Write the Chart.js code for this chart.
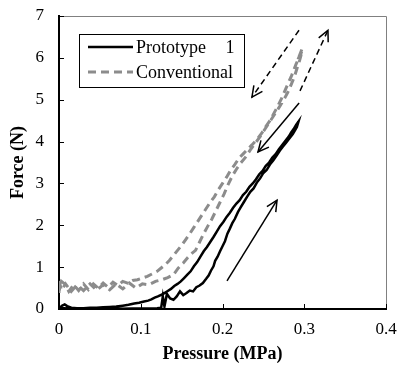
<!DOCTYPE html>
<html><head><meta charset="utf-8">
<script src="https://cdn.jsdelivr.net/npm/chart.js@4/dist/chart.umd.min.js"></script>
<style>html,body{margin:0;padding:0;background:#fff}#wrap{width:398px;height:365px}</style>
</head><body><div id="wrap"><canvas id="c" width="398" height="365"></canvas></div>
<script>
// ---- data ----
const seriesNames = ['Prototype 1', 'Conventional'];
const xTickValues = [0, 0.1, 0.2, 0.3, 0.4];
const yTickValues = [0, 1, 2, 3, 4, 5, 6, 7];
const xTitle = 'Pressure (MPa)';
const yTitle = 'Force (N)';

// Prototype 1: loading then unloading
const protoPressure = [
  0.000,0.010,0.030,0.060,0.090,0.110,0.120,0.125,0.127,0.129,0.132,0.136,0.140,0.144,0.148,0.152,0.156,0.160,0.164,0.168,
  0.172,0.176,0.180,0.183,0.186,0.189,0.191,0.194,0.197,0.200,0.203,0.206,0.209,0.212,0.215,0.219,0.222,0.226,0.230,0.234,
  0.238,0.242,0.246,0.250,0.254,0.258,0.262,0.266,0.270,0.274,0.278,0.282,0.286,0.289,0.291,0.293,
  0.290,0.287,0.284,0.281,0.277,0.273,0.269,0.265,0.261,0.257,0.253,0.249,0.245,0.241,0.237,0.233,0.229,0.225,0.221,
  0.217,0.213,0.209,0.205,0.201,0.197,0.193,0.189,0.185,0.181,0.177,0.173,0.169,0.165,0.161,0.157,0.153,0.149,0.145,0.141,
  0.137,0.133,0.129,0.125,0.121,0.117,0.113,0.109,0.104,0.098,0.092,0.085,0.078,0.070,0.062,0.054,0.046,0.038,0.030,0.022,
  0.015,0.010,0.007,0.004,0.001
];
const protoForce = [
  0.03,0.01,0.00,0.00,0.01,0.01,0.02,0.03,0.30,0.06,0.36,0.25,0.22,0.30,0.42,0.33,0.38,0.44,0.42,0.52,
  0.56,0.62,0.72,0.80,0.92,1.02,1.15,1.25,1.38,1.50,1.62,1.80,1.92,2.05,2.15,2.32,2.42,2.55,2.68,2.80,
  2.88,3.02,3.12,3.25,3.32,3.45,3.55,3.66,3.78,3.88,3.98,4.08,4.18,4.28,4.35,4.48,
  4.40,4.30,4.22,4.12,4.02,3.92,3.82,3.70,3.62,3.50,3.42,3.30,3.22,3.10,3.00,2.92,2.80,2.72,2.60,
  2.52,2.42,2.30,2.20,2.08,1.98,1.85,1.72,1.60,1.48,1.38,1.25,1.12,1.02,0.90,0.82,0.74,0.66,0.60,0.55,
  0.48,0.43,0.38,0.34,0.30,0.27,0.23,0.20,0.18,0.15,0.13,0.10,0.08,0.06,0.05,0.04,0.03,0.03,0.02,0.02,
  0.03,0.07,0.11,0.08,0.03
];

// Conventional: loading then unloading
const convPressure = [
  0.000,0.000,0.003,0.008,0.015,0.022,0.030,0.038,0.046,0.054,0.062,0.070,0.078,0.086,0.094,0.102,0.110,0.118,0.126,0.133,
  0.140,0.146,0.152,0.157,0.162,0.167,0.172,0.177,0.182,0.187,0.192,0.197,0.202,0.207,0.212,0.217,0.222,0.228,0.234,0.240,
  0.246,0.252,0.258,0.264,0.270,0.275,0.280,0.284,0.288,0.291,0.294,0.296,0.297,0.293,0.297,0.292,
  0.295,0.293,0.290,0.287,0.284,0.280,0.276,0.272,0.268,0.263,0.258,0.253,0.248,0.242,0.236,0.230,0.225,0.220,0.215,0.210,
  0.205,0.200,0.195,0.190,0.185,0.180,0.175,0.170,0.165,0.160,0.155,0.150,0.145,0.140,0.135,0.130,0.125,0.120,0.114,0.108,
  0.102,0.096,0.090,0.084,0.078,0.072,0.066,0.060,0.054,0.048,0.042,0.036,0.030,0.024,0.018,0.012,0.007,0.003,0.000
];
const convForce = [
  0.38,0.68,0.45,0.60,0.42,0.58,0.44,0.60,0.45,0.58,0.46,0.60,0.48,0.62,0.50,0.60,0.58,0.66,0.70,0.75,
  0.82,0.98,1.10,1.22,1.32,1.40,1.60,1.80,1.98,2.15,2.35,2.55,2.75,2.98,3.18,3.34,3.48,3.62,3.80,3.96,
  4.12,4.30,4.48,4.66,4.84,5.00,5.18,5.36,5.55,5.74,5.92,6.06,6.20,6.00,6.15,5.95,
  6.08,5.98,5.85,5.70,5.55,5.38,5.20,5.02,4.86,4.68,4.50,4.36,4.20,4.05,3.92,3.80,3.70,3.60,3.45,3.32,
  3.15,3.00,2.85,2.68,2.55,2.40,2.25,2.10,1.95,1.80,1.66,1.52,1.40,1.28,1.16,1.06,0.98,0.90,0.84,0.78,
  0.74,0.70,0.68,0.62,0.66,0.56,0.64,0.52,0.62,0.50,0.60,0.46,0.60,0.44,0.58,0.42,0.60,0.66,0.42
];

// Annotation arrows (data coordinates): [pressure, force]
const arrowFromP = [0.2936, 0.2948, 0.2937, 0.2055];
const arrowFromF = [6.66, 5.21, 4.92, 0.67];
const arrowToP   = [0.2360, 0.3290, 0.2434, 0.2667];
const arrowToF   = [5.06, 6.66, 3.75, 2.60];
const arrowDashed = [true, true, false, false];

// ---- styles ----
const protoColor = '#000000';
const convColor = '#8c8c8c';
const serif = "'Liberation Serif', 'Times New Roman', serif";

function toPoints(xs, ys) { return xs.map((x, i) => ({ x: x, y: ys[i] })); }

const decor = {
  id: 'decor',
  afterDraw(chart) {
    const ctx = chart.ctx, a = chart.chartArea;
    const xs = chart.scales.x, ys = chart.scales.y;
    ctx.save();
    ctx.strokeStyle = '#808080'; ctx.lineWidth = 1;
    ctx.beginPath();
    ctx.moveTo(a.left, a.top + 0.5); ctx.lineTo(a.right + 0.5, a.top + 0.5); ctx.lineTo(a.right + 0.5, a.bottom);
    ctx.stroke();
    ctx.strokeStyle = '#000'; ctx.lineWidth = 1;
    ctx.beginPath();
    yTickValues.forEach(v => { const py = Math.round(ys.getPixelForValue(v)) + 0.5; ctx.moveTo(a.left, py); ctx.lineTo(a.left + 5, py); });
    xTickValues.forEach(v => { const px = Math.round(xs.getPixelForValue(v)) + 0.5; ctx.moveTo(px, a.bottom); ctx.lineTo(px, a.bottom - 5); });
    ctx.stroke();
    for (let i = 0; i < arrowFromP.length; i++) {
      const x1 = xs.getPixelForValue(arrowFromP[i]), y1 = ys.getPixelForValue(arrowFromF[i]);
      const x2 = xs.getPixelForValue(arrowToP[i]), y2 = ys.getPixelForValue(arrowToF[i]);
      ctx.strokeStyle = '#000'; ctx.lineWidth = 1.5;
      ctx.setLineDash(arrowDashed[i] ? [6, 4] : []);
      ctx.beginPath(); ctx.moveTo(x1, y1); ctx.lineTo(x2, y2); ctx.stroke();
      const ang = Math.atan2(y2 - y1, x2 - x1), L = 12, w = 0.45;
      ctx.setLineDash([]);
      ctx.beginPath();
      ctx.moveTo(x2 - L * Math.cos(ang - w), y2 - L * Math.sin(ang - w));
      ctx.lineTo(x2, y2);
      ctx.lineTo(x2 - L * Math.cos(ang + w), y2 - L * Math.sin(ang + w));
      ctx.stroke();
    }
    ctx.setLineDash([]);
    ctx.strokeStyle = '#000'; ctx.lineWidth = 1;
    ctx.fillStyle = '#fff';
    ctx.fillRect(79, 34, 165, 53);
    ctx.strokeRect(79.5, 34.5, 165, 53);
    const rows = [47, 72];
    chart.data.datasets.forEach((ds, i) => {
      ctx.strokeStyle = ds.borderColor; ctx.lineWidth = ds.borderWidth;
      ctx.setLineDash(ds.borderDash || []);
      ctx.beginPath(); ctx.moveTo(88, rows[i]); ctx.lineTo(133, rows[i]); ctx.stroke();
      ctx.setLineDash([]);
      ctx.fillStyle = '#000';
      ctx.font = "18px " + serif;
      ctx.wordSpacing = '15px';
      ctx.textBaseline = 'middle'; ctx.textAlign = 'left';
      ctx.fillText(ds.label, 136, rows[i] + 1);
      ctx.wordSpacing = '0px';
    });
    ctx.restore();
  }
};

new Chart(document.getElementById('c'), {
  type: 'scatter',
  data: {
    datasets: [
      { label: seriesNames[0], data: toPoints(protoPressure, protoForce), showLine: true,
        borderColor: protoColor, borderWidth: 2.5, pointRadius: 0, tension: 0 },
      { label: seriesNames[1], data: toPoints(convPressure, convForce), showLine: true,
        borderColor: convColor, borderWidth: 3, borderDash: [8, 5], pointRadius: 0, tension: 0 }
    ]
  },
  options: {
    responsive: false, animation: false, devicePixelRatio: 1,
    layout: { padding: { top: 16, right: 12, left: 0, bottom: 0 } },
    plugins: { legend: { display: false }, tooltip: { enabled: false } },
    scales: {
      x: {
        type: 'linear', min: 0, max: 0.4,
        afterBuildTicks: s => { s.ticks = xTickValues.map(v => ({ value: v })); },
        afterFit: s => { s.height = 56; s.paddingLeft = 0; s.paddingRight = 0; },
        grid: { display: false, drawTicks: false },
        border: { display: true, color: '#000', width: 2 },
        ticks: { color: '#000', padding: 10, font: { family: serif, size: 17 }, maxRotation: 0,
          callback: v => (v === 0 ? '0' : String(Math.round(v * 10) / 10)) },
        title: { display: true, text: xTitle, color: '#000', padding: { top: 0, bottom: 0 },
          font: { family: serif, size: 18, weight: 'bold' } }
      },
      y: {
        type: 'linear', min: 0, max: 7,
        afterBuildTicks: s => { s.ticks = yTickValues.map(v => ({ value: v })); },
        afterFit: s => { s.width = 59; s.paddingTop = 0; s.paddingBottom = 0; },
        grid: { display: false, drawTicks: false },
        border: { display: true, color: '#000', width: 2 },
        ticks: { color: '#000', padding: 15, font: { family: serif, size: 17 } },
        title: { display: true, text: yTitle, color: '#000', padding: { top: 8, bottom: 0 },
          font: { family: serif, size: 18, weight: 'bold' } }
      }
    }
  },
  plugins: [decor]
});
</script></body></html>
